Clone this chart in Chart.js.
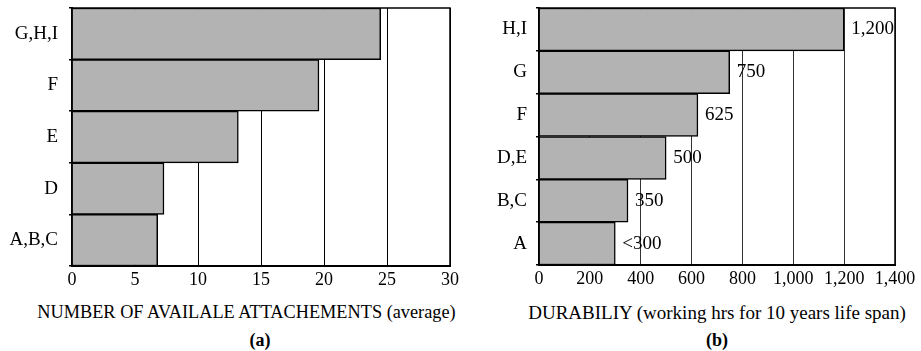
<!DOCTYPE html>
<html>
<head>
<meta charset="utf-8">
<script src="https://cdn.jsdelivr.net/npm/chart.js@4/dist/chart.umd.min.js"></script>
<style>
  body { margin: 0; background: #fff; }
  #wrap { position: relative; width: 921px; height: 351px; font-family: "Liberation Serif", serif; color: #000; }
  canvas { position: absolute; top: 0; }
  .cap { position: absolute; text-align: center; white-space: nowrap; line-height: 20px; }
</style>
</head>
<body>
<div id="wrap">
  <canvas id="graphA" width="460" height="300" style="left:0"></canvas>
  <canvas id="graphB" width="461" height="300" style="left:460px"></canvas>
  <div class="cap" style="left:0; width:493px; top:302px; font-size:18.3px;">NUMBER OF AVAILALE ATTACHEMENTS (average)</div>
  <div class="cap" style="left:210px; width:100px; top:330px; font-size:18px; font-weight:bold;">(a)</div>
  <div class="cap" style="left:517px; width:400px; top:303px; font-size:19px;">DURABILIY (working hrs for 10 years life span)</div>
  <div class="cap" style="left:667px; width:100px; top:330px; font-size:18px; font-weight:bold;">(b)</div>
</div>
<script>
// (a) attachments
let attachLabels = ["G,H,I", "F", "E", "D", "A,B,C"];
let attachValues = [24.5, 19.6, 13.2, 7.3, 6.8];
let attachTicks = [0, 5, 10, 15, 20, 25, 30];

// (b) durability
let durLabels = ["H,I", "G", "F", "D,E", "B,C", "A"];
let durValues = [1200, 750, 625, 500, 350, 300];
let durText = ["1,200", "750", "625", "500", "350", "<300"];
let durTicks = [0, 200, 400, 600, 800, 1000, 1200, 1400];

let serif = "Liberation Serif";

// box around the plot area
let frame = {
    id: 'frame',
    afterDraw(chart) {
        let a = chart.chartArea;
        let c = chart.ctx;
        c.save();
        c.strokeStyle = '#000';
        c.lineWidth = 1.5;
        c.strokeRect(a.left, a.top, a.right - a.left, a.bottom - a.top);
        c.restore();
    }
};

// numbers next to the bars of (b)
let valueLabels = {
    id: 'valueLabels',
    afterDatasetsDraw(chart) {
        let c = chart.ctx;
        let meta = chart.getDatasetMeta(0);
        c.save();
        c.font = '19px "' + serif + '"';
        c.fillStyle = '#000';
        c.textBaseline = 'middle';
        meta.data.forEach((bar, i) => c.fillText(durText[i], bar.x + 7, bar.y));
        c.restore();
    }
};

function barSet(values) {
    return [{
        data: values,
        backgroundColor: '#b3b3b3',
        borderColor: '#000',
        borderWidth: 1.5,
        categoryPercentage: 1,
        barPercentage: 1,
    }];
}

function opts(max, ticks, gridColor, yWidth, xHeight, padRight, yPad) {
    return {
        indexAxis: 'y',
        responsive: false,
        animation: false,
        layout: { padding: { top: 8, right: padRight, left: 0, bottom: 0 } },
        plugins: { legend: { display: false }, tooltip: { enabled: false } },
        scales: {
            x: {
                min: 0,
                max: max,
                afterBuildTicks: s => { s.ticks = ticks.map(v => ({ value: v })); },
                ticks: {
                    color: '#000',
                    font: { family: serif, size: 18 },
                    padding: 3,
                    maxRotation: 0,
                    autoSkip: false,
                    callback: v => v.toLocaleString('en-US'),
                },
                grid: { color: gridColor, lineWidth: 1, drawTicks: false },
                border: { display: true, color: '#000', width: 2 },
                afterFit: s => { s.height = xHeight; s.paddingLeft = 0; s.paddingRight = 0; },
            },
            y: {
                ticks: { color: '#000', font: { family: serif, size: 19 }, padding: yPad },
                grid: { drawOnChartArea: false, offset: true, tickLength: 3, color: '#000', lineWidth: 1.5 },
                border: { display: true, color: '#000', width: 2 },
                afterFit: s => { s.width = yWidth; s.paddingTop = 0; s.paddingBottom = 0; },
            }
        }
    };
}

let graphA = document.getElementById('graphA').getContext('2d');
let graphB = document.getElementById('graphB').getContext('2d');

let chartA = new Chart(graphA, {
    type: 'bar',
    data: { labels: attachLabels, datasets: barSet(attachValues) },
    options: opts(30, attachTicks, '#000', 72, 34, 10, 11),
    plugins: [frame]
});

let chartB = new Chart(graphB, {
    type: 'bar',
    data: { labels: durLabels, datasets: barSet(durValues) },
    options: opts(1400, durTicks, '#333', 79, 35, 26, 9),
    plugins: [frame, valueLabels]
});
</script>
</body>
</html>
